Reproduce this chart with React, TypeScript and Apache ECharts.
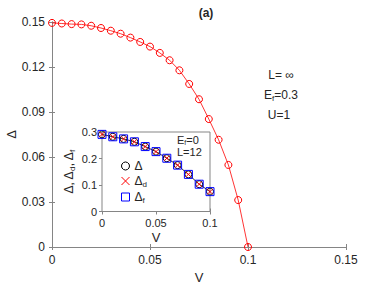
import React, { useEffect, useRef } from 'react';
import * as echarts from 'echarts';

// Main panel: L = ∞, E_f = 0.3, U = 1
const mainV = [0, 0.005, 0.01, 0.015, 0.02, 0.025, 0.03, 0.035, 0.04, 0.045, 0.05, 0.055, 0.06, 0.065, 0.07, 0.075, 0.08, 0.085, 0.09, 0.095, 0.1];
const mainDelta = [0.1494, 0.149, 0.1486, 0.1484, 0.1475, 0.146, 0.1442, 0.1422, 0.1396, 0.1367, 0.1336, 0.1294, 0.1245, 0.1178, 0.1087, 0.0985, 0.0853, 0.0715, 0.0547, 0.0313, 0];

// Inset: E_f = 0, L = 12
const insetV = [0, 0.01, 0.02, 0.03, 0.04, 0.05, 0.06, 0.07, 0.08, 0.09, 0.1];
const insetDelta = [0.291, 0.282, 0.274, 0.263, 0.245, 0.226, 0.201, 0.175, 0.14, 0.103, 0.075];
const insetDeltaD = [0.291, 0.282, 0.274, 0.263, 0.245, 0.226, 0.201, 0.175, 0.14, 0.103, 0.075];
const insetDeltaF = [0.291, 0.282, 0.274, 0.263, 0.245, 0.226, 0.201, 0.175, 0.14, 0.103, 0.075];

// Axis scales (tick labels follow from these)
const mainX = { min: 0, max: 0.15, interval: 0.05 };
const mainY = { min: 0, max: 0.15, interval: 0.03 };
const insetX = { min: 0, max: 0.1, interval: 0.05 };
const insetY = { min: 0, max: 0.3, interval: 0.1 };

const seriesNames = ['Δ', 'Δd', 'Δf'];

const FONT = '"Liberation Sans", Arial, Helvetica, sans-serif';
const AXIS = '#858585';
const TXT = '#262626';
const CROSS = 'path://M0,0L10,10M10,0L0,10';

const pairs = (xs: number[], ys: number[]) => xs.map((x, i) => [x, ys[i]]);

const rich = {
  n: { fontSize: 12, fontFamily: FONT, color: TXT, lineHeight: 14 },
  s: { fontSize: 8, fontFamily: FONT, color: TXT, verticalAlign: 'bottom', lineHeight: 7 },
};

function axisPair(gridIndex: number, scale: any, pos: 'bottom' | 'left', isX: boolean, fontSize: number, margin: number, name: string, nameGap: number, moveOverlap = true) {
  const common = {
    type: 'value',
    gridIndex,
    min: scale.min,
    max: scale.max,
    interval: scale.interval,
    splitLine: { show: false },
    axisLine: { show: true, lineStyle: { color: AXIS, width: 1 } },
    axisTick: { show: true, inside: true, length: 3, lineStyle: { color: AXIS } },
  };
  const primary = {
    ...common,
    position: pos,
    axisLabel: { color: TXT, fontSize, fontFamily: FONT, margin },
    name,
    nameLocation: 'middle',
    nameGap,
    nameMoveOverlap: moveOverlap,
    nameRotate: isX ? 0 : 90,
    nameTextStyle: { color: TXT, fontSize: 13, fontFamily: FONT, rich },
  };
  const secondary = {
    ...common,
    position: isX ? 'top' : 'right',
    axisLabel: { show: false },
  };
  return [primary, secondary];
}

export default function App() {
  const ref = useRef<HTMLDivElement>(null);
  useEffect(() => {
    if (!ref.current) return;
    const chart = echarts.init(ref.current, null, { renderer: 'svg' });
    const hollow = (c: string) => ({ color: 'transparent', borderColor: c, borderWidth: 1 });
    const option: any = {
      animation: false,
      backgroundColor: '#fff',
      title: {
        text: '(a)',
        left: 201,
        top: 2,
        textAlign: 'center',
        textStyle: { fontSize: 12, fontWeight: 'bold', fontFamily: FONT, color: TXT },
      },
      grid: [
        { left: 52, top: 22, right: 36, bottom: 39, show: false, outerBoundsMode: 'none', containLabel: false },
        { left: 102, top: 132, right: 172, bottom: 74.5, show: true, backgroundColor: '#fff', borderColor: AXIS, borderWidth: 1, z: 5, outerBoundsMode: 'none', containLabel: false },
      ],
      xAxis: [
        ...axisPair(0, mainX, 'bottom', true, 12, 7, 'V', 20),
        ...axisPair(1, insetX, 'bottom', true, 11, 6, 'V', 19),
      ],
      yAxis: [
        ...axisPair(0, mainY, 'left', false, 12, 7, 'Δ', 34, false),
        ...axisPair(1, insetY, 'left', false, 11, 5, '{n|Δ, Δ}{s|d}{n|, Δ}{s|f}', 26),
      ],
      legend: {
        orient: 'vertical',
        left: 116,
        top: 155,
        itemWidth: 8,
        itemHeight: 8,
        itemGap: 3,
        z: 10,
        data: [
          { name: seriesNames[0], icon: 'circle', itemStyle: hollow('#000') },
          { name: seriesNames[1], icon: CROSS, itemStyle: { color: '#ff0000', borderColor: '#ff0000', borderWidth: 1 } },
          { name: seriesNames[2], icon: 'rect', itemStyle: hollow('#0000ff') },
        ],
        formatter: (name: string) =>
          name === 'Δ' ? '{n|Δ}' : name === 'Δd' ? '{n|Δ}{s|d}' : '{n|Δ}{s|f}',
        textStyle: { rich },
      },
      graphic: [
        {
          type: 'text', x: 281, y: 75, z: 20,
          style: { text: 'L= ∞', fontSize: 12, fontFamily: FONT, fill: TXT, textAlign: 'center', textVerticalAlign: 'middle' },
        },
        {
          type: 'text', x: 281, y: 95, z: 20,
          style: {
            text: '{n|E}{s|f}{n|=0.3}', textAlign: 'center', textVerticalAlign: 'middle',
            rich: { n: { fontSize: 12, fontFamily: FONT, fill: TXT, lineHeight: 14 }, s: { fontSize: 8, fontFamily: FONT, fill: TXT, verticalAlign: 'bottom', lineHeight: 7 } },
          },
        },
        {
          type: 'text', x: 279, y: 115, z: 20,
          style: { text: 'U=1', fontSize: 12, fontFamily: FONT, fill: TXT, textAlign: 'center', textVerticalAlign: 'middle' },
        },
        {
          type: 'text', x: 177, y: 140, z: 20,
          style: {
            text: '{n|E}{s|f}{n|=0}', textAlign: 'left', textVerticalAlign: 'middle',
            rich: { n: { fontSize: 11, fontFamily: FONT, fill: TXT, lineHeight: 12 }, s: { fontSize: 7, fontFamily: FONT, fill: TXT, verticalAlign: 'bottom', lineHeight: 6 } },
          },
        },
        {
          type: 'text', x: 177, y: 152, z: 20,
          style: { text: 'L=12', fontSize: 11, fontFamily: FONT, fill: TXT, textAlign: 'left', textVerticalAlign: 'middle' },
        },
      ],
      series: [
        {
          type: 'line',
          name: 'main',
          xAxisIndex: 0,
          yAxisIndex: 0,
          data: pairs(mainV, mainDelta),
          symbol: 'circle',
          symbolSize: 7,
          itemStyle: hollow('#ff0000'),
          lineStyle: { color: '#ff0000', width: 0.8 },
        },
        {
          type: 'line',
          name: seriesNames[0],
          xAxisIndex: 2,
          yAxisIndex: 2,
          z: 6,
          data: pairs(insetV, insetDelta),
          symbol: 'circle',
          symbolSize: 7,
          itemStyle: hollow('#000'),
          lineStyle: { color: '#000', width: 0.8 },
        },
        {
          type: 'line',
          name: seriesNames[1],
          xAxisIndex: 2,
          yAxisIndex: 2,
          z: 7,
          data: pairs(insetV, insetDeltaD),
          symbol: CROSS,
          symbolSize: 5,
          itemStyle: { color: '#ff0000', borderColor: '#ff0000', borderWidth: 1 },
          lineStyle: { width: 0, opacity: 0 },
        },
        {
          type: 'line',
          name: seriesNames[2],
          xAxisIndex: 2,
          yAxisIndex: 2,
          z: 8,
          data: pairs(insetV, insetDeltaF),
          symbol: 'rect',
          symbolSize: 8,
          itemStyle: hollow('#0000ff'),
          lineStyle: { width: 0, opacity: 0 },
        },
      ],
    };
    chart.setOption(option);
    return () => chart.dispose();
  }, []);
  return <div ref={ref} style={{ width: 382, height: 286, position: 'absolute', left: 0, top: 0 }} />;
}
